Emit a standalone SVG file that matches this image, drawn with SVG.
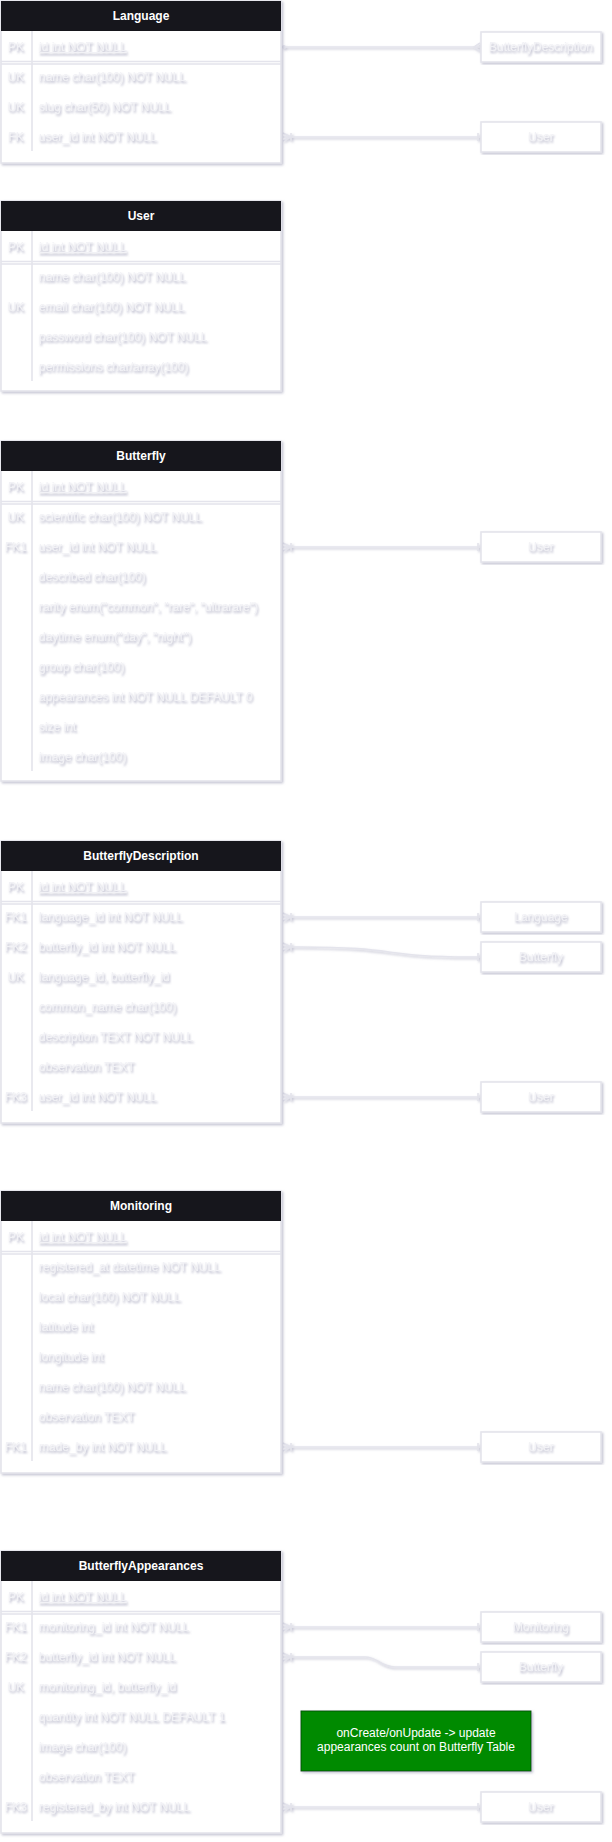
<svg xmlns="http://www.w3.org/2000/svg" width="612" height="1842" viewBox="0 0 612 1842">
<defs>
<filter id="sh" x="-10%" y="-10%" width="120%" height="120%">
<feDropShadow dx="1.5" dy="1.5" stdDeviation="1.3" flood-color="#8a8aa8" flood-opacity="0.5"/>
</filter>
<filter id="tsh" x="-10%" y="-30%" width="120%" height="160%">
<feGaussianBlur in="SourceAlpha" stdDeviation="1.1"/>
<feOffset dx="1" dy="1.5" result="b"/>
<feFlood flood-color="#9494b0" flood-opacity="0.75"/>
<feComposite in2="b" operator="in" result="s"/>
<feMerge><feMergeNode in="s"/><feMergeNode in="SourceGraphic"/></feMerge>
</filter>
</defs>
<style>
.ln{stroke:#e4e4ec;stroke-width:1.6;fill:none}
.box{fill:#ffffff;stroke:#e4e4ec;stroke-width:1.6}
.hd{fill:#18181f}
.ht{font-family:"Liberation Sans",Arial,sans-serif;font-size:12px;font-weight:bold;fill:#ffffff;text-anchor:middle}
.t{font-family:"Liberation Sans",Arial,sans-serif;font-size:12px;fill:#f2f2f6}
.k{font-family:"Liberation Sans",Arial,sans-serif;font-size:12px;fill:#f2f2f6;text-anchor:middle}
.u{text-decoration:underline}
.bt{font-family:"Liberation Sans",Arial,sans-serif;font-size:12px;fill:#f2f2f6;text-anchor:middle}
.nt{font-family:"Liberation Sans",Arial,sans-serif;font-size:12px;fill:#ffffff;text-anchor:middle}
</style>

<g id="connectors" filter="url(#sh)">
<g class="ln">
<path d="M283,47 L480,47"/>
<path d="M480,43 L474,47 L480,51"/>
<circle cx="284" cy="47" r="1.2"/>
<path d="M283,137 L480,137"/>
<path d="M283,133 L291,137 L283,141 M291,133 L291,141 M478,133 L478,141"/>
<path d="M283,547 L480,547"/>
<path d="M283,543 L291,547 L283,551 M291,543 L291,551 M478,543 L478,551"/>
<path d="M283,917 L480,917"/>
<path d="M283,913 L291,917 L283,921 M291,913 L291,921 M478,913 L478,921"/>
<path d="M283,947 L300,947 C400,947 380,957 470,957 L480,957"/>
<path d="M283,943 L291,947 L283,951 M291,943 L291,951 M478,953 L478,961"/>
<path d="M283,1097 L480,1097"/>
<path d="M283,1093 L291,1097 L283,1101 M291,1093 L291,1101 M478,1093 L478,1101"/>
<path d="M283,1447 L480,1447"/>
<path d="M283,1443 L291,1447 L283,1451 M291,1443 L291,1451 M478,1443 L478,1451"/>
<path d="M283,1627 L480,1627"/>
<path d="M283,1623 L291,1627 L283,1631 M291,1623 L291,1631 M478,1623 L478,1631"/>
<path d="M283,1657 L365,1657 C378,1657 380,1667 395,1667 L480,1667"/>
<path d="M283,1653 L291,1657 L283,1661 M291,1653 L291,1661 M478,1663 L478,1671"/>
<path d="M283,1807 L480,1807"/>
<path d="M283,1803 L291,1807 L283,1811 M291,1803 L291,1811 M478,1803 L478,1811"/>
</g>
</g>

<g id="table-language">
<g filter="url(#sh)">
<rect class="box" x="1" y="1" width="280" height="162"/>
<rect class="hd" x="1" y="1" width="280" height="30"/>
<path class="ln" d="M1,61.5 L281,61.5 M1,64 L281,64 M32,31 L32,151"/>
</g>
<text class="ht" x="141" y="20">Language</text>
<g filter="url(#tsh)">
<text class="k" x="16" y="51">PK</text><text class="t u" x="39" y="51">id int NOT NULL</text>
<text class="k" x="16" y="81">UK</text><text class="t" x="39" y="81">name char(100) NOT NULL</text>
<text class="k" x="16" y="111">UK</text><text class="t" x="39" y="111">slug char(50) NOT NULL</text>
<text class="k" x="16" y="141">FK</text><text class="t" x="39" y="141">user_id int NOT NULL</text>
</g>
</g>

<g id="table-user">
<g filter="url(#sh)">
<rect class="box" x="1" y="201" width="280" height="190"/>
<rect class="hd" x="1" y="201" width="280" height="30"/>
<path class="ln" d="M1,261.5 L281,261.5 M1,264 L281,264 M32,231 L32,381"/>
</g>
<text class="ht" x="141" y="220">User</text>
<g filter="url(#tsh)">
<text class="k" x="16" y="251">PK</text><text class="t u" x="39" y="251">id int NOT NULL</text>
<text class="t" x="39" y="281">name char(100) NOT NULL</text>
<text class="k" x="16" y="311">UK</text><text class="t" x="39" y="311">email char(100) NOT NULL</text>
<text class="t" x="39" y="341">password char(100) NOT NULL</text>
<text class="t" x="39" y="371">permissions char/array(100)</text>
</g>
</g>

<g id="table-butterfly">
<g filter="url(#sh)">
<rect class="box" x="1" y="441" width="280" height="340"/>
<rect class="hd" x="1" y="441" width="280" height="30"/>
<path class="ln" d="M1,501.5 L281,501.5 M1,504 L281,504 M32,471 L32,771"/>
</g>
<text class="ht" x="141" y="460">Butterfly</text>
<g filter="url(#tsh)">
<text class="k" x="16" y="491">PK</text><text class="t u" x="39" y="491">id int NOT NULL</text>
<text class="k" x="16" y="521">UK</text><text class="t" x="39" y="521">scientific char(100) NOT NULL</text>
<text class="k" x="16" y="551">FK1</text><text class="t" x="39" y="551">user_id int NOT NULL</text>
<text class="t" x="39" y="581">described char(100)</text>
<text class="t" x="39" y="611">rarity enum("common", "rare", "ultrarare")</text>
<text class="t" x="39" y="641">daytime enum("day", "night")</text>
<text class="t" x="39" y="671">group char(100)</text>
<text class="t" x="39" y="701">appearances int NOT NULL DEFAULT 0</text>
<text class="t" x="39" y="731">size int</text>
<text class="t" x="39" y="761">image char(100)</text>
</g>
</g>

<g id="table-butterflydescription">
<g filter="url(#sh)">
<rect class="box" x="1" y="841" width="280" height="282"/>
<rect class="hd" x="1" y="841" width="280" height="30"/>
<path class="ln" d="M1,901.5 L281,901.5 M1,904 L281,904 M32,871 L32,1111"/>
</g>
<text class="ht" x="141" y="860">ButterflyDescription</text>
<g filter="url(#tsh)">
<text class="k" x="16" y="891">PK</text><text class="t u" x="39" y="891">id int NOT NULL</text>
<text class="k" x="16" y="921">FK1</text><text class="t" x="39" y="921">language_id int NOT NULL</text>
<text class="k" x="16" y="951">FK2</text><text class="t" x="39" y="951">butterfly_id int NOT NULL</text>
<text class="k" x="16" y="981">UK</text><text class="t" x="39" y="981">language_id, butterfly_id</text>
<text class="t" x="39" y="1011">common_name char(100)</text>
<text class="t" x="39" y="1041">description TEXT NOT NULL</text>
<text class="t" x="39" y="1071">observation TEXT</text>
<text class="k" x="16" y="1101">FK3</text><text class="t" x="39" y="1101">user_id int NOT NULL</text>
</g>
</g>

<g id="table-monitoring">
<g filter="url(#sh)">
<rect class="box" x="1" y="1191" width="280" height="282"/>
<rect class="hd" x="1" y="1191" width="280" height="30"/>
<path class="ln" d="M1,1251.5 L281,1251.5 M1,1254 L281,1254 M32,1221 L32,1461"/>
</g>
<text class="ht" x="141" y="1210">Monitoring</text>
<g filter="url(#tsh)">
<text class="k" x="16" y="1241">PK</text><text class="t u" x="39" y="1241">id int NOT NULL</text>
<text class="t" x="39" y="1271">registered_at datetime NOT NULL</text>
<text class="t" x="39" y="1301">local char(100) NOT NULL</text>
<text class="t" x="39" y="1331">latitude int</text>
<text class="t" x="39" y="1361">longitude int</text>
<text class="t" x="39" y="1391">name char(100) NOT NULL</text>
<text class="t" x="39" y="1421">observation TEXT</text>
<text class="k" x="16" y="1451">FK1</text><text class="t" x="39" y="1451">made_by int NOT NULL</text>
</g>
</g>

<g id="table-butterflyappearances">
<g filter="url(#sh)">
<rect class="box" x="1" y="1551" width="280" height="282"/>
<rect class="hd" x="1" y="1551" width="280" height="30"/>
<path class="ln" d="M1,1611.5 L281,1611.5 M1,1614 L281,1614 M32,1581 L32,1821"/>
</g>
<text class="ht" x="141" y="1570">ButterflyAppearances</text>
<g filter="url(#tsh)">
<text class="k" x="16" y="1601">PK</text><text class="t u" x="39" y="1601">id int NOT NULL</text>
<text class="k" x="16" y="1631">FK1</text><text class="t" x="39" y="1631">monitoring_id int NOT NULL</text>
<text class="k" x="16" y="1661">FK2</text><text class="t" x="39" y="1661">butterfly_id int NOT NULL</text>
<text class="k" x="16" y="1691">UK</text><text class="t" x="39" y="1691">monitoring_id, butterfly_id</text>
<text class="t" x="39" y="1721">quantity int NOT NULL DEFAULT 1</text>
<text class="t" x="39" y="1751">image char(100)</text>
<text class="t" x="39" y="1781">observation TEXT</text>
<text class="k" x="16" y="1811">FK3</text><text class="t" x="39" y="1811">registered_by int NOT NULL</text>
</g>
</g>

<g id="ref-language-bd"><rect class="box" x="481" y="32" width="120" height="30" filter="url(#sh)"/><text class="bt" x="541" y="51" filter="url(#tsh)">ButterflyDescription</text></g>
<g id="ref-language-user"><rect class="box" x="481" y="122" width="120" height="30" filter="url(#sh)"/><text class="bt" x="541" y="141" filter="url(#tsh)">User</text></g>
<g id="ref-butterfly-user"><rect class="box" x="481" y="532" width="120" height="30" filter="url(#sh)"/><text class="bt" x="541" y="551" filter="url(#tsh)">User</text></g>
<g id="ref-bd-language"><rect class="box" x="481" y="902" width="120" height="30" filter="url(#sh)"/><text class="bt" x="541" y="921" filter="url(#tsh)">Language</text></g>
<g id="ref-bd-butterfly"><rect class="box" x="481" y="942" width="120" height="30" filter="url(#sh)"/><text class="bt" x="541" y="961" filter="url(#tsh)">Butterfly</text></g>
<g id="ref-bd-user"><rect class="box" x="481" y="1082" width="120" height="30" filter="url(#sh)"/><text class="bt" x="541" y="1101" filter="url(#tsh)">User</text></g>
<g id="ref-monitoring-user"><rect class="box" x="481" y="1432" width="120" height="30" filter="url(#sh)"/><text class="bt" x="541" y="1451" filter="url(#tsh)">User</text></g>
<g id="ref-ba-monitoring"><rect class="box" x="481" y="1612" width="120" height="30" filter="url(#sh)"/><text class="bt" x="541" y="1631" filter="url(#tsh)">Monitoring</text></g>
<g id="ref-ba-butterfly"><rect class="box" x="481" y="1652" width="120" height="30" filter="url(#sh)"/><text class="bt" x="541" y="1671" filter="url(#tsh)">Butterfly</text></g>
<g id="ref-ba-user"><rect class="box" x="481" y="1792" width="120" height="30" filter="url(#sh)"/><text class="bt" x="541" y="1811" filter="url(#tsh)">User</text></g>

<g id="note">
<rect x="301" y="1711" width="230" height="60" fill="#008a00" stroke="#005700" stroke-width="1" filter="url(#sh)"/>
<text class="nt" x="416" y="1737">onCreate/onUpdate -&gt; update</text>
<text class="nt" x="416" y="1751">appearances count on Butterfly Table</text>
</g>
</svg>
